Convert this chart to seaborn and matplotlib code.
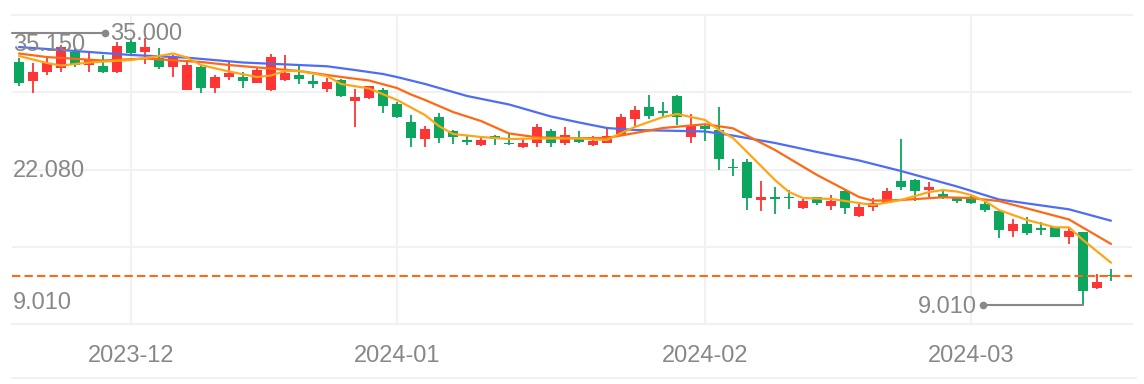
import matplotlib
matplotlib.use("Agg")
import matplotlib.pyplot as plt
import matplotlib.transforms as mtrans
from matplotlib.lines import Line2D
import numpy as np
import pandas as pd
import seaborn as sns

# ---------------- data ----------------
holidays = ["2023-12-25", "2023-12-29", "2024-01-01", "2024-02-09", "2024-02-12", "2024-03-01"]
dates = [d for d in pd.bdate_range("2023-11-21", "2024-03-18") if d.strftime("%Y-%m-%d") not in holidays]

opens = [32.26, 30.41, 31.30, 31.63, 33.21, 31.94, 31.88, 31.30, 34.17, 33.21,
         32.58, 31.78, 29.60, 31.78, 29.72, 30.82, 30.82, 30.25, 29.51, 30.51,
         30.94, 30.46, 29.62, 30.51, 28.53, 28.76, 29.51, 28.22, 26.52, 24.84,
         26.94, 25.68, 24.77, 24.30, 25.16, 24.52, 24.06, 24.46, 25.66, 24.49,
         24.84, 24.34, 24.52, 25.30, 26.75, 27.90, 27.52, 28.98, 25.09, 26.11,
         25.73, 22.17, 22.70, 19.04, 19.30, 19.37, 18.29, 19.30, 18.47, 19.88,
         17.51, 18.34, 18.75, 20.83, 20.92, 19.97, 19.64, 19.30, 19.35, 18.69,
         18.02, 16.10, 16.78, 16.38, 16.43, 15.53, 16.01, 10.60, 11.87]
highs = [32.61, 32.13, 32.61, 33.85, 33.54, 33.21, 32.90, 34.17, 34.49, 34.49,
         33.54, 32.90, 32.42, 31.94, 30.99, 32.26, 31.27, 31.63, 32.99, 32.90,
         31.80, 30.94, 30.67, 30.58, 29.65, 29.93, 29.79, 28.44, 27.16, 26.11,
         27.38, 25.73, 25.16, 25.03, 25.25, 25.35, 24.84, 26.30, 25.83, 26.05,
         25.59, 25.11, 25.80, 27.26, 28.02, 29.08, 28.44, 29.06, 27.29, 26.21,
         27.96, 22.93, 22.93, 20.90, 20.28, 20.00, 19.14, 19.36, 19.52, 19.95,
         18.88, 19.20, 20.16, 24.84, 21.02, 20.74, 20.00, 19.30, 19.42, 18.88,
         18.08, 17.20, 17.39, 16.97, 16.49, 16.49, 16.01, 11.97, 12.42]
lows = [29.96, 29.30, 30.99, 31.30, 31.78, 31.30, 31.21, 31.21, 32.90, 32.04,
        31.53, 30.77, 29.55, 29.30, 29.30, 30.51, 29.72, 30.19, 29.49, 30.44,
        30.13, 29.79, 29.39, 28.91, 26.05, 28.66, 27.33, 26.85, 24.13, 24.08,
        24.49, 24.39, 24.34, 24.17, 24.30, 24.30, 23.99, 24.13, 24.11, 24.25,
        24.52, 24.17, 24.46, 25.20, 25.89, 26.75, 26.94, 26.16, 24.52, 24.71,
        21.91, 21.33, 18.08, 17.99, 17.70, 18.15, 18.15, 18.61, 18.08, 17.70,
        17.44, 17.97, 18.72, 19.97, 18.93, 19.30, 19.16, 18.72, 18.64, 17.92,
        15.38, 15.53, 15.67, 15.74, 15.48, 14.79, 9.01, 10.51, 11.33]
closes = [30.25, 31.30, 32.16, 33.69, 31.94, 32.42, 31.30, 33.76, 33.06, 33.69,
          31.78, 32.68, 31.94, 29.70, 30.82, 31.21, 30.44, 31.46, 32.74, 31.21,
          30.56, 30.17, 30.35, 28.98, 28.91, 29.89, 28.07, 27.00, 24.92, 25.80,
          24.99, 25.09, 24.54, 24.80, 24.85, 24.36, 24.52, 26.05, 24.49, 25.25,
          24.61, 24.68, 25.11, 26.94, 27.64, 27.07, 27.37, 26.94, 26.21, 25.80,
          22.93, 22.07, 19.20, 19.28, 19.16, 19.23, 18.90, 18.78, 18.96, 18.25,
          18.34, 18.77, 19.93, 20.31, 19.88, 20.31, 19.30, 18.93, 18.75, 18.05,
          16.14, 16.78, 15.86, 16.20, 15.53, 16.11, 10.37, 11.18, 11.78]

ma5_idx = [0, 2, 3, 5, 8, 10, 11, 12, 13, 15, 17, 18, 19, 20, 22, 23, 25, 27, 29, 30,
           31, 33, 35, 37, 40, 42, 43, 44, 45, 46, 47, 49, 50, 51, 52, 54, 55, 56, 58, 61,
           63, 65, 66, 67, 68, 69, 70, 72, 74, 75, 76, 78]
ma5_val = [32.80, 32.13, 31.89, 32.18, 32.42, 32.80, 33.04, 32.66, 31.94, 31.32,
           30.79, 30.94, 31.37, 31.37, 30.89, 30.13, 29.70, 28.60, 27.16, 26.10,
           25.35, 25.06, 24.87, 24.92, 24.92, 24.77, 25.44, 26.02, 26.50, 26.97,
           27.26, 26.69, 25.73, 24.96, 23.63, 20.95, 19.80, 19.23, 19.14, 18.56,
           19.04, 19.80, 19.99, 19.85, 19.52, 18.94, 18.08, 17.13, 16.43, 16.43,
           15.22, 13.05]
ma10_idx = [0, 2, 6, 9, 13, 15, 20, 23, 25, 27, 28, 29, 31, 33, 35, 37, 40, 42, 44, 46,
            49, 51, 54, 57, 60, 61, 63, 66, 68, 70, 75, 78]
ma10_val = [33.04, 32.70, 32.37, 32.56, 32.23, 31.94, 31.37, 30.80, 30.46, 29.74,
            29.12, 28.60, 27.45, 26.59, 25.40, 25.03, 24.94, 24.97, 25.44, 25.92,
            26.28, 25.89, 23.82, 21.43, 19.33, 18.97, 19.04, 19.30, 19.23, 18.94,
            17.18, 14.84]
ma20_idx = [0, 4, 8, 12, 16, 20, 22, 24, 26, 27, 29, 32, 35, 38, 40, 42, 44, 49, 51, 54,
            57, 60, 63, 67, 70, 75, 78]
ma20_val = [33.66, 33.28, 32.90, 32.64, 32.18, 31.94, 31.82, 31.46, 31.08, 30.79,
            30.13, 28.98, 28.17, 27.02, 26.45, 25.92, 25.73, 25.59, 25.20, 24.49,
            23.63, 22.82, 21.81, 20.33, 19.09, 18.15, 17.06]

month_labels = ["2023-12", "2024-01", "2024-02", "2024-03"]
y_labels = ["35.150", "22.080", "9.010"]
y_label_vals = [35.150, 22.080, 9.010]
max_high = 35.000
min_low = 9.010

# ---------------- style ----------------
UP = "#fd3535"
DOWN = "#0ca65e"
C_MA5 = "#ffa516"
C_MA10 = "#ff6914"
C_MA20 = "#4d6df6"
GRID = "#f1f1f1"
TXT = "#888888"

sns.set_theme(style="white")
plt.rcParams["font.family"] = ["Liberation Sans", "DejaVu Sans"]

W, H = 1144, 384
fig = plt.figure(figsize=(W / 100, H / 100), dpi=100)
ax = fig.add_axes([12 / W, 1 - 324 / H, (1132 - 12) / W, (324 - 15) / H])

n = len(dates)
x = np.arange(n)
o = np.array(opens); c = np.array(closes); hi = np.array(highs); lo = np.array(lows)
cols = [UP if cc >= oo else DOWN for oo, cc in zip(o, c)]

ylo, yhi = 7.19, 36.72
ax.set_xlim(-0.5, 79.5)
ax.set_ylim(ylo, yhi)

# grid
yt = np.linspace(ylo, yhi, 5)[1:-1]
ax.set_yticks(yt)
ax.set_yticklabels([])
ax.tick_params(axis="y", length=0)
ax.grid(True, axis="both", color=GRID, lw=1.5, zorder=0)
for s in ["left", "right"]:
    ax.spines[s].set_visible(False)
for s in ["top", "bottom"]:
    ax.spines[s].set_color(GRID)
    ax.spines[s].set_linewidth(1.5)

month_pos = []
seen = set()
for i, d in enumerate(dates):
    key = d.strftime("%Y-%m")
    if key not in seen:
        seen.add(key)
        if i > 0:
            month_pos.append(i)
ax.set_xticks(month_pos)
ax.set_xticklabels(month_labels)
ax.tick_params(axis="x", length=4.3, width=1.5, color=GRID, direction="out",
               pad=10.5, labelsize=17, labelcolor=TXT)

# candles
ax.vlines(x, lo, hi, colors=cols, lw=1.3, zorder=2)
body_h = np.maximum(np.abs(c - o), 0.12)
ax.bar(x, body_h, bottom=np.minimum(o, c), width=0.71, color=cols, linewidth=0, zorder=3)

# moving averages
sns.lineplot(x=ma20_idx, y=ma20_val, ax=ax, color=C_MA20, lw=1.6, zorder=4)
sns.lineplot(x=ma10_idx, y=ma10_val, ax=ax, color=C_MA10, lw=1.6, zorder=5)
sns.lineplot(x=ma5_idx, y=ma5_val, ax=ax, color=C_MA5, lw=1.6, zorder=6)

# last price
ax.axhline(closes[-1], color=C_MA10, lw=1.5, dashes=(4, 2), zorder=7)

ax.set_xlabel("")
ax.set_ylabel("")
ax.set_xlim(-0.5, 79.5)
ax.set_ylim(ylo, yhi)

# y labels (min / mid / max)
blend = mtrans.blended_transform_factory(ax.transAxes, ax.transData)
shifts = [-20, -8.5, -4.3]
for lab, v, dy in zip(y_labels, y_label_vals, shifts):
    tr = mtrans.offset_copy(blend, fig=fig, x=0.7, y=dy, units="dots")
    ax.text(0, v, lab, transform=tr, ha="left", va="baseline", fontsize=17, color=TXT, zorder=8)

# max / min markers
ax.plot([-0.5, 6.14], [max_high, max_high], color=TXT, lw=1.5, zorder=8, clip_on=False)
ax.plot([6.14], [max_high], "o", color=TXT, ms=4.5, zorder=8)
ax.annotate(f"{max_high:.3f}", xy=(6.14, max_high), xytext=(5, -7), textcoords="offset pixels",
            ha="left", va="baseline", fontsize=17, color=TXT, zorder=8)

imin = int(np.argmin(lows))
ax.plot([68.86, imin], [min_low, min_low], color=TXT, lw=1.5, zorder=8)
ax.plot([68.86], [min_low], "o", color=TXT, ms=4.5, zorder=8)
ax.annotate(f"{min_low:.3f}", xy=(68.86, min_low), xytext=(-6, -7.7), textcoords="offset pixels",
            ha="right", va="baseline", fontsize=17, color=TXT, zorder=8)

# bottom rule
fig.add_artist(Line2D([12 / W, 1136 / W], [1 - 378 / H, 1 - 378 / H], color=GRID, lw=1.5))

fig.savefig("out.png", dpi=100)
